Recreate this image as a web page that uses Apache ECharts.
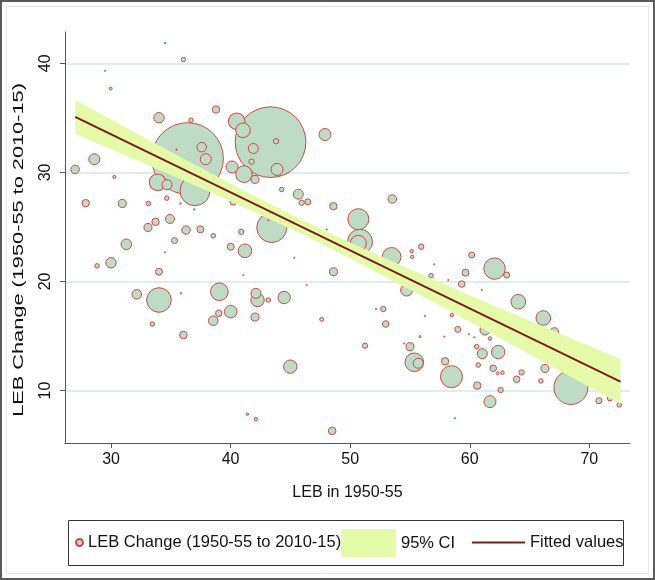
<!DOCTYPE html>
<html>
<head>
<meta charset="utf-8">
<script src="https://cdn.jsdelivr.net/npm/echarts@6/dist/echarts.min.js"></script>
<style>
html,body{margin:0;padding:0;background:#fff;}
#chart{width:655px;height:580px;}
</style>
</head>
<body>
<div id="chart"></div>
<script>
// LEB in 1950-55 (x), LEB change 1950-55 to 2010-15 (y), population weight (estimated)
const lebX = [34.52,36.05,29.50,29.97,34.01,36.69,38.78,28.60,26.99,30.28,36.40,37.58,37.92,35.49,33.89,34.68,37.02,34.66,35.81,43.34,
  40.51,41.04,41.90,43.80,41.75,43.88,41.12,40.12,42.04,44.27,45.66,45.94,46.45,47.89,48.59,43.44,48.04,27.88,30.94,33.12,
  36.96,40.23,34.93,33.72,33.09,36.27,37.47,38.55,40.89,35.31,31.28,40.01,41.20,45.33,34.52,28.83,30.00,34.01,41.06,48.60,
  46.36,32.15,34.01,35.85,39.06,42.12,42.25,43.15,44.48,40.01,39.01,38.55,42.04,33.45,36.05,47.62,44.99,41.40,42.12,48.49,
  53.52,50.68,50.82,50.68,53.47,54.72,55.14,55.19,55.94,57.03,56.76,60.16,62.07,63.09,59.64,59.32,61.00,64.06,66.15,67.08,
  52.77,52.16,52.97,58.49,59.00,61.27,61.69,51.24,55.00,55.36,55.69,57.93,58.47,60.58,61.05,62.38,60.71,61.96,62.73,62.32,
  63.92,64.34,65.95,66.29,60.63,62.58,61.69,68.46,70.80,71.72,72.50,58.76,55.84,56.25,57.87,59.93,60.38,58.20,54.52,43.15];
const lebChange = [41.86,40.34,39.31,37.68,35.01,34.78,35.76,31.21,30.27,29.58,31.27,32.31,31.21,32.08,29.10,28.87,28.32,27.64,27.15,32.77,
  34.69,33.86,32.19,32.86,30.98,30.27,29.84,30.50,29.36,28.43,28.00,27.21,27.30,33.47,26.90,24.94,24.77,27.18,27.15,27.15,
  26.60,27.30,25.73,25.47,24.95,24.71,24.78,24.19,24.55,23.75,23.40,23.18,22.81,22.17,22.67,21.43,21.71,20.89,20.59,20.89,
  19.67,18.82,18.30,18.91,19.06,18.91,18.30,18.30,18.53,17.23,17.08,16.40,16.74,16.10,15.09,16.53,12.19,7.83,7.37,6.30,
  27.56,25.71,23.64,23.49,22.26,19.21,22.78,22.26,23.18,21.57,20.52,22.42,21.18,20.59,20.80,19.76,19.21,18.14,16.65,15.39,
  17.47,17.47,16.10,16.92,15.60,15.55,14.77,14.11,14.02,12.59,12.50,12.68,11.27,14.02,13.38,13.53,12.34,12.04,11.64,11.58,
  11.03,11.66,10.88,12.02,10.45,10.05,8.98,10.28,9.07,9.29,8.68,7.46,14.94,16.83,14.94,15.16,14.88,20.13,14.33,25.62];
const population = [0.3,2.4,0.2,1.1,13.5,2.6,6.8,15.1,9.2,1.3,640.8,11.5,15.1,0.3,34.4,12.5,112.5,2.6,0.3,623,
  34.4,26.6,12.5,3.6,3.6,18,34.4,18,8,2.6,12.5,3.6,4.5,18,6.8,112.5,0.2,6.8,8,2.6,
  0.3,5.4,10.1,6.8,8,8.8,6.1,2.6,3.6,4.5,14,6.1,23.1,0.2,0.2,2.6,13.5,6.1,0.2,8,
  0.2,11.5,75.6,0.3,38.7,12.5,22.4,2.6,19.2,19.8,5.4,11.5,8,2.6,7.2,2,22.4,0.8,1.4,7.2,
  9.2,55.1,78.1,32,43.2,18,1.4,1.4,3.6,0.2,2.6,4.5,57.2,4.5,6.1,5.4,0.2,26.6,26.6,8,
  3.6,0.2,5.4,1.4,4.5,12.5,1.6,3.6,8,43.2,12.5,6.8,60.5,2.6,12.5,22.4,2.6,5.4,1.6,1.1,
  5.4,3.6,2.6,8,6.8,3.6,18,144.5,4.5,3.6,2.6,0.2,0.5,0.2,0.2,0.2,0.2,0.2,0.2,0.2];

// 95% CI band and fitted line
const ciX     = [27.0, 32.0, 37.0, 42.0, 46.0, 50.0, 55.0, 60.0, 65.0, 69.0, 72.6];
const ciLower = [33.52,31.18,28.81,26.36,24.30,22.11,19.24,16.30,13.32,10.93,8.76];
const ciUpper = [36.64,33.66,30.71,27.84,25.64,23.57,21.12,18.74,16.40,14.55,12.88];
const fitX = [27.0, 72.6];
const fitY = [35.08, 10.82];

const xTicks = [30, 40, 50, 60, 70];
const yTicks = [10, 20, 30, 40];
const yTitle = 'LEB Change (1950-55 to 2010-15)';

const points = lebX.map((x, i) => [x, lebChange[i], population[i]])
  .sort((a, b) => b[2] - a[2]);

const chart = echarts.init(document.getElementById('chart'), null, {renderer: 'canvas'});
const FONT = 'Liberation Sans, Arial, sans-serif';
const BUBBLE_FILL = '#bedcc5';
const BUBBLE_LINE = '#c84a44';
const BAND = '#e6fbaa';
const FIT = '#7b1d1d';

chart.setOption({
  animation: false,
  backgroundColor: '#ffffff',
  grid: {left: 65, top: 32, right: 25, bottom: 137, containLabel: false},
  xAxis: {
    type: 'value', min: 26.15, max: 73.4,
    name: 'LEB in 1950-55', nameLocation: 'middle', nameGap: 42,
    nameTextStyle: {fontFamily: FONT, fontSize: 16, color: '#111'},
    axisLine: {show: true, lineStyle: {color: '#555', width: 1}},
    axisTick: {show: true, length: 5, lineStyle: {color: '#555'}, customValues: xTicks},
    axisLabel: {fontFamily: FONT, fontSize: 16, color: '#111', margin: 9, customValues: xTicks},
    splitLine: {show: false}
  },
  yAxis: {
    type: 'value', min: 5.19, max: 42.87,
    axisLine: {show: true, lineStyle: {color: '#555', width: 1}},
    axisTick: {show: true, length: 5, lineStyle: {color: '#555'}, customValues: yTicks},
    axisLabel: {fontFamily: FONT, fontSize: 16, color: '#111', rotate: 90, margin: 11, customValues: yTicks},
    splitLine: {show: true, lineStyle: {color: '#e4ebed', width: 2}}
  },
  legend: [
    {data: [{name: 'LEB Change (1950-55 to 2010-15)', icon: 'circle'}], left: 75, top: 534, padding: 0,
     itemWidth: 7, itemHeight: 7, textStyle: {fontFamily: FONT, fontSize: 16.5, color: '#111'}, selectedMode: false},
    {data: [{name: '95% CI', icon: 'rect'}], left: 341, top: 529, padding: 0,
     itemWidth: 55, itemHeight: 28, textStyle: {fontFamily: FONT, fontSize: 16.5, color: '#111'}, selectedMode: false},
    {data: [{name: 'Fitted values', icon: 'rect'}], left: 472, top: 534, padding: 0,
     itemWidth: 53, itemHeight: 2, textStyle: {fontFamily: FONT, fontSize: 16.5, color: '#111'}, selectedMode: false}
  ],
  graphic: [
    {type: 'rect', shape: {x: 1, y: 1, width: 653, height: 578}, style: {fill: 'none', stroke: '#5a5a5a', lineWidth: 2}, silent: true},
    {type: 'rect', shape: {x: 6.5, y: 6.5, width: 642, height: 567}, style: {fill: 'none', stroke: '#e6e6e6', lineWidth: 1}, silent: true},
    {type: 'rect', shape: {x: 68.5, y: 520.5, width: 555, height: 45}, style: {fill: 'none', stroke: '#333', lineWidth: 1}, silent: true},
    {type: 'text', x: 19, y: 250, rotation: Math.PI / 2, scaleX: 1.45, scaleY: 0.95, silent: true,
     style: {text: yTitle, font: '15px ' + FONT, fill: '#111', textAlign: 'center', textVerticalAlign: 'middle'}}
  ],
  series: [
    {
      name: 'LEB Change (1950-55 to 2010-15)', type: 'scatter', z: 2,
      data: points,
      symbol: 'circle',
      symbolSize: d => 2.83 * Math.sqrt(d[2]),
      itemStyle: {color: BUBBLE_FILL, borderColor: BUBBLE_LINE, borderWidth: 1, opacity: 1},
      emphasis: {disabled: true}
    },
    {
      name: '95% CI', type: 'custom', z: 3, color: BAND,
      itemStyle: {color: BAND},
      data: [[ciX[0], ciLower[0]]],
      silent: true,
      renderItem: function (params, api) {
        const pts = [];
        for (let i = 0; i < ciX.length; i++) pts.push(api.coord([ciX[i], ciUpper[i]]));
        for (let i = ciX.length - 1; i >= 0; i--) pts.push(api.coord([ciX[i], ciLower[i]]));
        return {type: 'polygon', shape: {points: pts}, style: {fill: BAND, stroke: null}};
      }
    },
    {
      name: 'Fitted values', type: 'line', z: 4,
      data: fitX.map((x, i) => [x, fitY[i]]),
      symbol: 'none', showSymbol: false, color: FIT, lineStyle: {color: FIT, width: 2}, silent: true
    }
  ]
});
</script>
</body>
</html>
